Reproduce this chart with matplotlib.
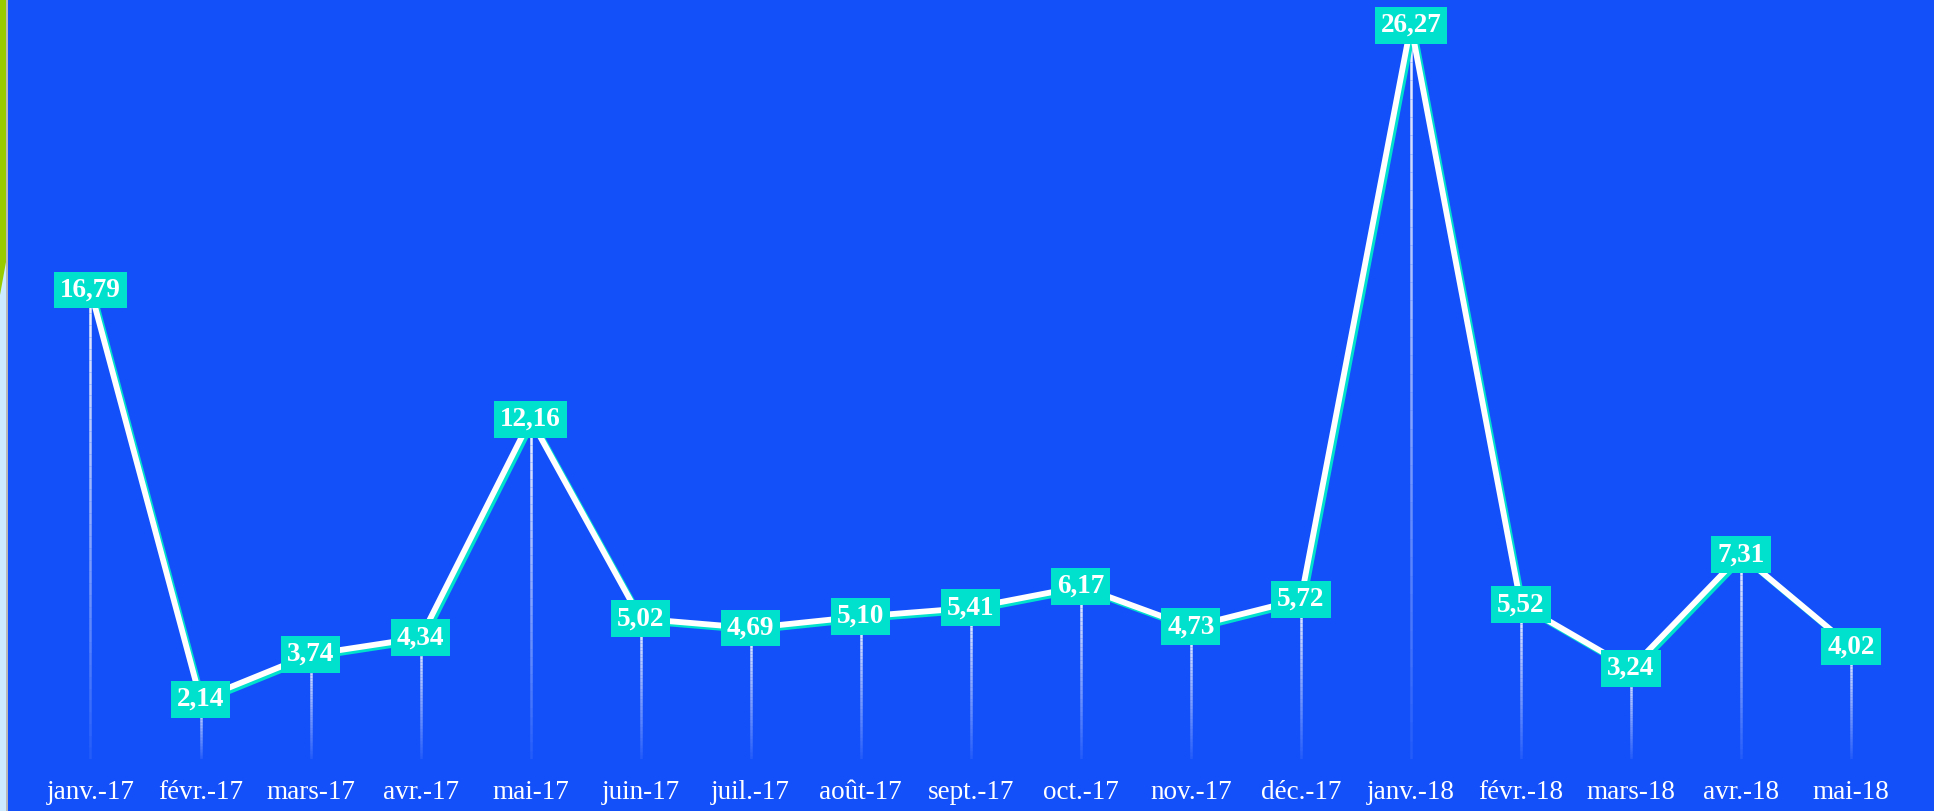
import numpy as np
import matplotlib
matplotlib.use("Agg")
import matplotlib.pyplot as plt
from matplotlib.collections import LineCollection
from matplotlib.patches import Rectangle, Polygon
import matplotlib.patheffects as pe

months = ["janv.-17", "févr.-17", "mars-17", "avr.-17", "mai-17", "juin-17", "juil.-17",
          "août-17", "sept.-17", "oct.-17", "nov.-17", "déc.-17", "janv.-18", "févr.-18",
          "mars-18", "avr.-18", "mai-18"]
values = [16.79, 2.14, 3.74, 4.34, 12.16, 5.02, 4.69, 5.10, 5.41, 6.17, 4.73, 5.72,
          26.27, 5.52, 3.24, 7.31, 4.02]

BG = "#1450FA"
TURQ = "#00E1CD"
W, H = 1934, 811

fig = plt.figure(figsize=(W / 100, H / 100), dpi=100)
fig.patch.set_facecolor(BG)

# left decorative strip
fig.patches.append(Rectangle((0, 0), 6 / W, 1, transform=fig.transFigure,
                             facecolor="#CCEBFF", edgecolor="none", zorder=0))
fig.patches.append(Polygon([(0, 1), (6 / W, 1), (6 / W, 1 - 262 / H), (0, 1 - 295 / H)],
                           closed=True, transform=fig.transFigure,
                           facecolor="#99CC00", edgecolor="none", zorder=1))
fig.patches.append(Rectangle((6 / W, 0), 1.5 / W, 1, transform=fig.transFigure,
                             facecolor="#B8B8B8", edgecolor="none", zorder=1))

ax = fig.add_axes([7.5 / W, 52 / H, 1 - 7.5 / W, 1 - 52 / H])
ax.set_facecolor(BG)
x = np.arange(len(values))
ax.set_xlim(-0.754, len(values) - 1 + 0.754)
ax.set_ylim(0, 27.17)
for s in ax.spines.values():
    s.set_visible(False)
ax.set_yticks([])
ax.set_xticks(x)
ax.set_xticklabels(months, fontfamily="Liberation Serif", fontsize=19.5, color="white")
ax.tick_params(axis="x", length=0, pad=15)

# gradient drop lines
nseg = 40
segs, cols = [], []
for xi, v in zip(x, values):
    ys = np.linspace(v, 0, nseg + 1)
    for k in range(nseg):
        segs.append([(xi, ys[k]), (xi, ys[k + 1])])
        a = 0.95 - 0.9 * (k / nseg)
        cols.append((1, 1, 1, a))
lc = LineCollection(segs, colors=cols, linewidths=1.8, zorder=2)
ax.add_collection(lc)

# main line with turquoise shadow
ax.plot(x, values, color="white", lw=4.2, zorder=3, solid_joinstyle="miter",
        path_effects=[pe.SimpleLineShadow(offset=(1.8, -1.8), shadow_color=TURQ, alpha=1.0),
                      pe.Normal()])

for xi, v in zip(x, values):
    ax.text(xi, v, f"{v:.2f}".replace(".", ","), ha="center", va="center",
            fontfamily="Liberation Serif", fontweight="bold", fontsize=19.5, color="white",
            zorder=5,
            bbox=dict(boxstyle="square,pad=0.22", facecolor=TURQ, edgecolor="none"))

fig.savefig("out.png", dpi=100, facecolor=BG)
